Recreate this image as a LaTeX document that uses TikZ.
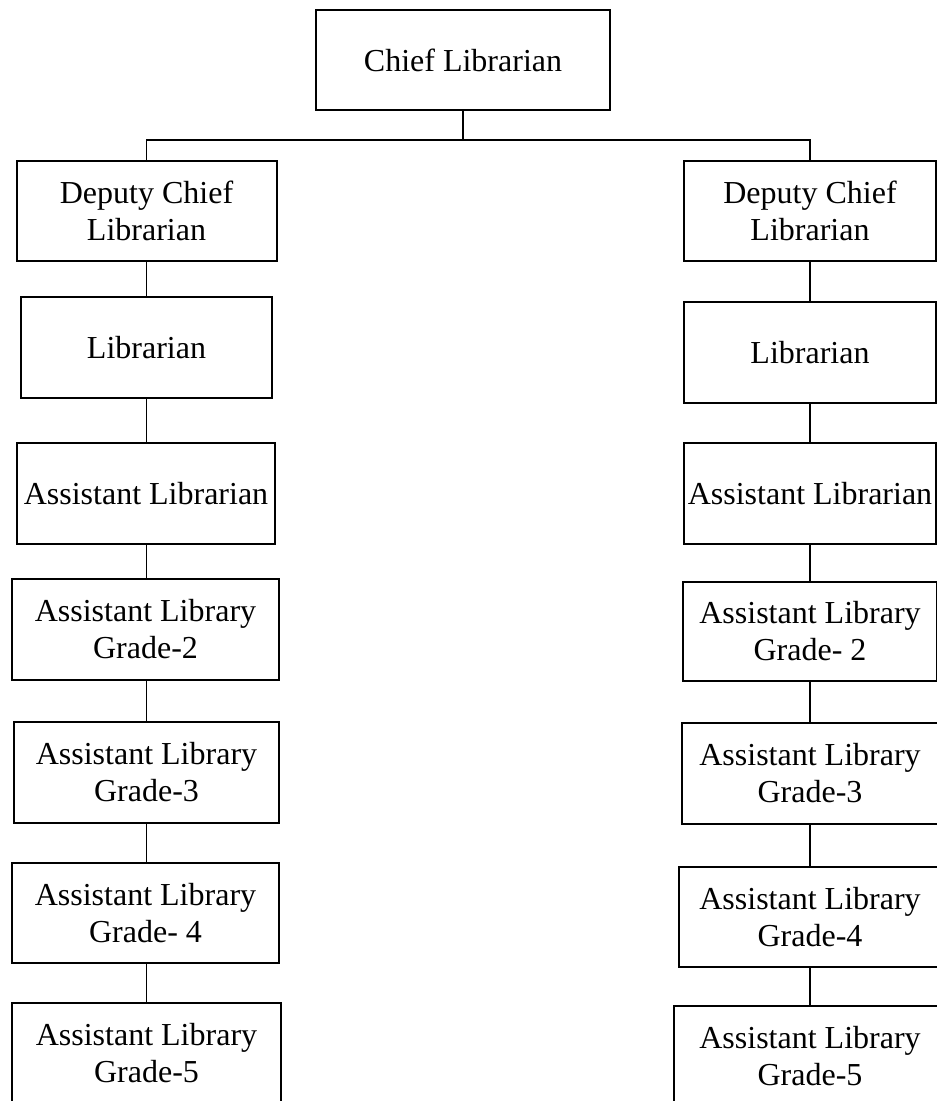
\documentclass[tikz,border=0pt]{standalone}
\usepackage{fontspec}
\setmainfont{Liberation Serif}
\usetikzlibrary{positioning}

\tikzset{
    postbox/.style={draw, line width=2pt, align=center, inner sep=0pt,
        minimum height=100pt, font=\fontsize{32}{37}\selectfont},
    link/.style={line width=1.6pt}
}

\begin{document}
\begin{tikzpicture}[x=1pt, y=-1pt]
    % Page frame
    \useasboundingbox (0,0) rectangle (937,1101);
    \clip (0,0) rectangle (937,1101);

    % Top node
    \node[postbox, minimum width=294pt] (chief) at (463,60) {Chief Librarian};

    % Left branch
    \node[postbox, minimum width=260pt] (ldeputy) at (146.5,211) {Deputy Chief\\Librarian};
    \node[postbox, minimum width=251pt, minimum height=101pt] (llib) at (146.5,347.5) {Librarian};
    \node[postbox, minimum width=258pt, minimum height=101pt] (lasst) at (146,493.5) {Assistant Librarian};
    \node[postbox, minimum width=267pt, minimum height=101pt] (lgrade2) at (145.5,629.5) {Assistant Library\\Grade-2};
    \node[postbox, minimum width=265pt, minimum height=101pt] (lgrade3) at (146.5,772.5) {Assistant Library\\Grade-3};
    \node[postbox, minimum width=267pt] (lgrade4) at (145.5,913) {Assistant Library\\Grade- 4};
    \node[postbox, minimum width=269pt] (lgrade5) at (146.5,1053) {Assistant Library\\Grade-5};

    % Right branch
    \node[postbox, minimum width=252pt] (rdeputy) at (810,211) {Deputy Chief\\Librarian};
    \node[postbox, minimum width=252pt, minimum height=101pt] (rlib) at (810,352.5) {Librarian};
    \node[postbox, minimum width=252pt, minimum height=101pt] (rasst) at (810,493.5) {Assistant Librarian};
    \node[postbox, minimum width=254pt, minimum height=99pt] (rgrade2) at (810,631.5) {Assistant Library\\Grade- 2};
    \node[postbox, minimum width=256pt, minimum height=101pt] (rgrade3) at (810,773.5) {Assistant Library\\Grade-3};
    \node[postbox, minimum width=262pt] (rgrade4) at (810,917) {Assistant Library\\Grade-4};
    \node[postbox, minimum width=272pt] (rgrade5) at (810,1056) {Assistant Library\\Grade-5};

    % Split under the top node
    \coordinate (bus) at (463,140);
    \draw[link] (chief.south) -- (bus);
    \draw[link] (ldeputy.north) |- (bus) -| (rdeputy.north);

    % Left chain
    \draw[link] (ldeputy.south) -- (ldeputy.south |- llib.north);
    \draw[link] (ldeputy.south |- llib.south) -- (ldeputy.south |- lasst.north);
    \draw[link] (ldeputy.south |- lasst.south) -- (ldeputy.south |- lgrade2.north);
    \draw[link] (ldeputy.south |- lgrade2.south) -- (ldeputy.south |- lgrade3.north);
    \draw[link] (ldeputy.south |- lgrade3.south) -- (ldeputy.south |- lgrade4.north);
    \draw[link] (ldeputy.south |- lgrade4.south) -- (ldeputy.south |- lgrade5.north);

    % Right chain
    \draw[link] (rdeputy.south) -- (rlib.north);
    \draw[link] (rlib.south) -- (rasst.north);
    \draw[link] (rasst.south) -- (rgrade2.north);
    \draw[link] (rgrade2.south) -- (rgrade3.north);
    \draw[link] (rgrade3.south) -- (rgrade4.north);
    \draw[link] (rgrade4.south) -- (rgrade5.north);
\end{tikzpicture}
\end{document}
